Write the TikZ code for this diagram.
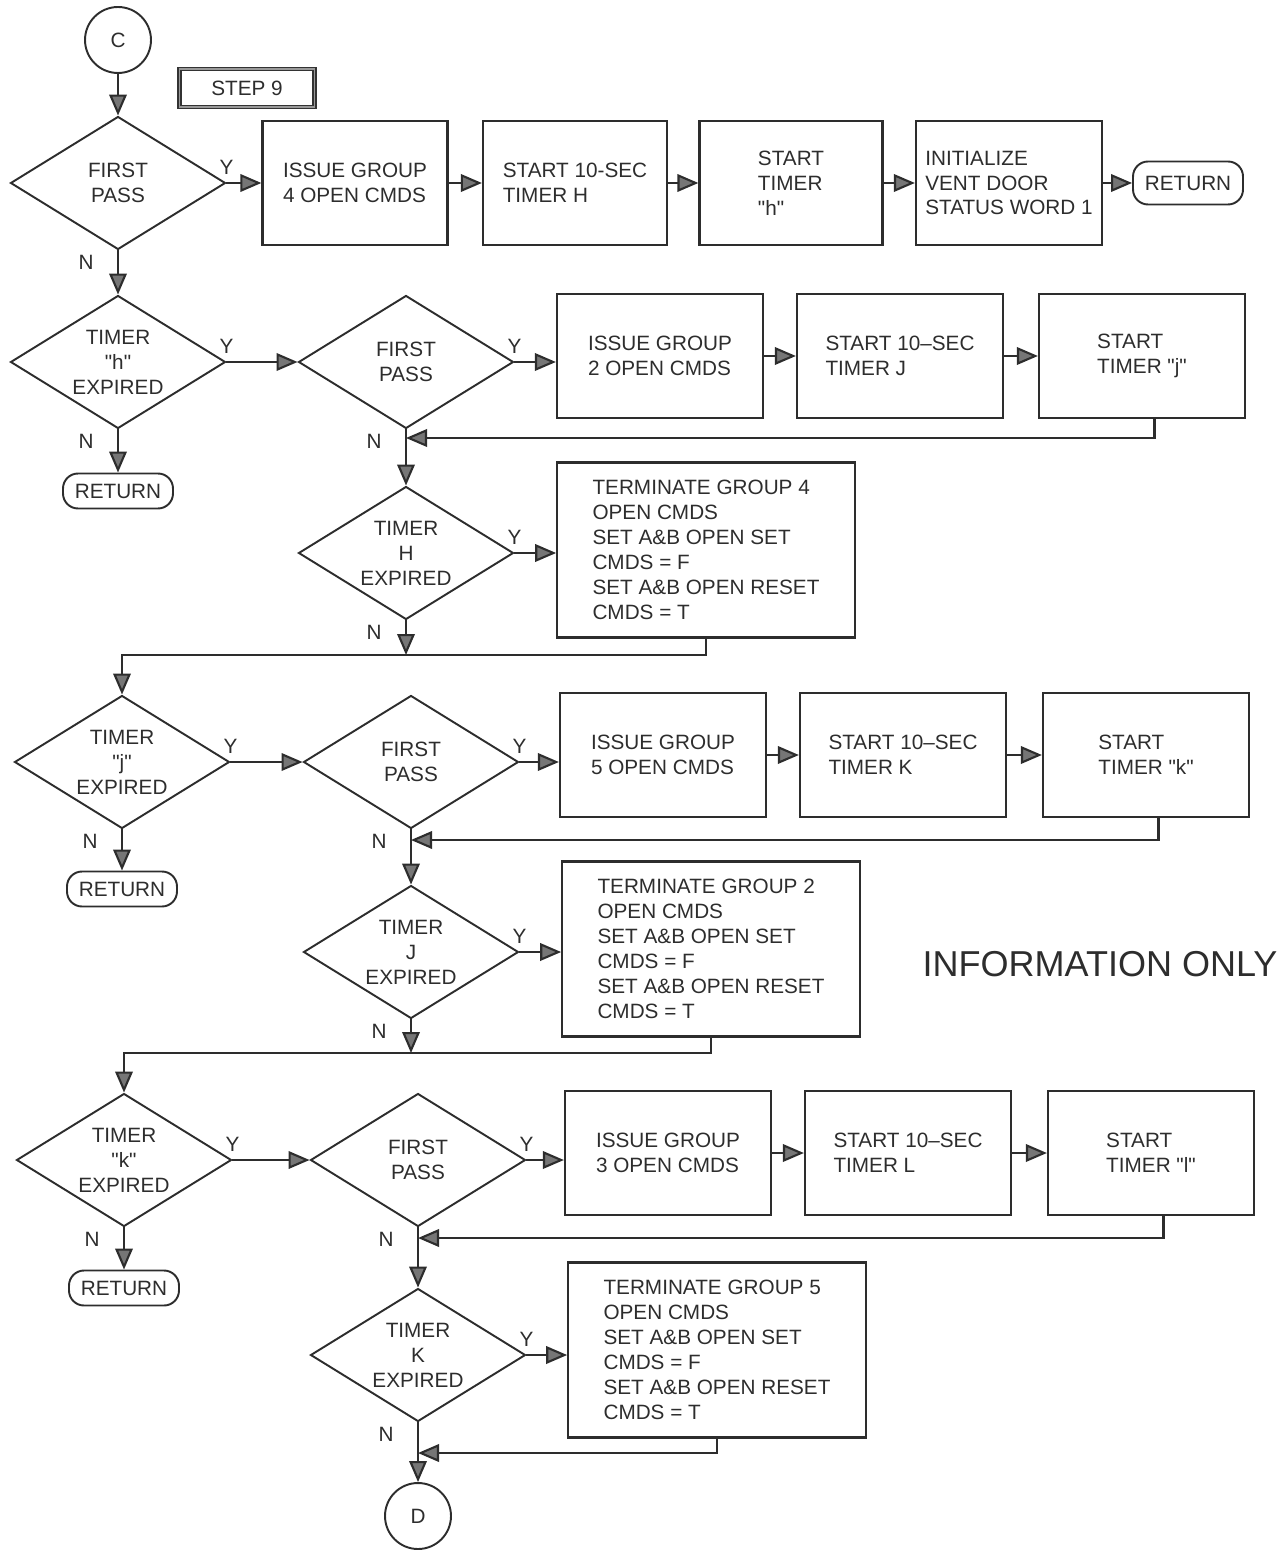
\documentclass[tikz,border=0pt]{standalone}
\usepackage{fontspec}
\setmainfont{Liberation Sans}
\usepackage{tikz}
\usetikzlibrary{shapes.geometric, arrows.meta}
\definecolor{inkgray}{RGB}{45,45,45}
\definecolor{tipgray}{RGB}{118,118,118}
\newcommand{\flowfont}{\fontsize{11.8}{14.2}\selectfont}
\newcommand{\qt}[1]{\textquotedbl#1\textquotedbl}

\begin{document}
\begin{tikzpicture}[
  x=0.02cm, y=-0.02cm,
  decision/.style={diamond, aspect=1.6, draw=inkgray, line width=1.1pt, minimum width=4.3cm, minimum height=2.66cm, inner sep=0pt, align=center, font=\flowfont, text=inkgray},
  process/.style={rectangle, draw=inkgray, line width=1.3pt, minimum width=4.12cm, minimum height=2.48cm, align=left, font=\flowfont, text=inkgray},
  wide/.style={process, minimum width=5.95cm, minimum height=3.5cm},
  terminal/.style={rectangle, rounded corners=0.3cm, draw=inkgray, line width=1.1pt, minimum width=2.2cm, minimum height=0.7cm, inner sep=1pt, font=\flowfont, text=inkgray},
  connector/.style={circle, draw=inkgray, line width=1.1pt, minimum size=1.32cm, font=\flowfont, text=inkgray},
  tag/.style={rectangle, draw=black!80, double=black!40, double distance=0.9pt, line width=0.9pt, minimum width=2.7cm, minimum height=0.76cm, font=\flowfont, text=inkgray},
  flow/.style={-{Triangle[length=0.42cm, width=0.35cm, fill=tipgray]}, draw=inkgray, line width=1.2pt},
  lab/.style={font=\flowfont, text=inkgray, inner sep=0pt},
  ylab/.style={lab, pos=0, yshift=0.32cm},
  nlab/.style={lab, pos=0, xshift=-0.64cm, yshift=-0.24cm}
]
\useasboundingbox (0,0) rectangle (1286,1550);

% Entry and step tag
\node[connector] (conC) at (118,40) {C};
\node[tag] (step) at (247,88) {STEP 9};

% Group 4 first pass
\node[decision] (pass1) at (118,183) {FIRST\\PASS};
\node[process, minimum width=3.7cm] (issue4) at (355,183) {ISSUE GROUP\\4 OPEN CMDS};
\node[process, minimum width=3.68cm] (secH) at (575,183) {START 10-SEC\\TIMER H};
\node[process, minimum width=3.66cm] (starth) at (791,183) {START\\TIMER\\\qt{h}};
\node[process, minimum width=3.72cm] (initvent) at (1009,183) {INITIALIZE\\VENT DOOR\\STATUS WORD 1};
\node[terminal, minimum height=0.86cm] (ret1) at (1188,183) {RETURN};

\draw[flow] (conC) -- (pass1);
\draw[flow] (pass1.east) -- node[ylab] (y1) {Y} (issue4.west);
\draw[flow] (issue4) -- (secH);
\draw[flow] (secH) -- (starth);
\draw[flow] (starth) -- (initvent);
\draw[flow] (initvent) -- (ret1);

% Timer h expired -> group 2
\node[decision] (timerh) at (118,362) {TIMER\\\qt{h}\\EXPIRED};
\node[terminal] (ret2) at (118,491) {RETURN};
\node[decision] (pass2) at (406,362) {FIRST\\PASS};
\node[process] (issue2) at (660,356) {ISSUE GROUP\\2 OPEN CMDS};
\node[process] (secJ) at (900,356) {START 10--SEC\\TIMER J};
\node[process] (startj) at (1142,356) {START\\TIMER \qt{j}};
\coordinate (back2) at (406,438);

\draw[flow] (pass1.south) -- node[nlab] (n1) {N} (timerh.north);
\draw[flow] (timerh.east) -- node[ylab] (y2) {Y} (pass2.west);
\draw[flow] (timerh.south) -- node[nlab] (n2) {N} (ret2.north);
\draw[flow] (pass2.east) -- node[ylab] (y3) {Y} (pass2.east -| issue2.west);
\draw[flow] (issue2) -- (secJ);
\draw[flow] (secJ) -- (startj);
\draw[flow] ([xshift=0.25cm]startj.south) |- (back2);

% Timer H expired
\node[decision] (timerH) at (406,553) {TIMER\\H\\EXPIRED};
\node[wide] (term4) at (706,550) {TERMINATE GROUP 4\\OPEN CMDS\\SET A\&B OPEN SET\\CMDS = F\\SET A\&B OPEN RESET\\CMDS = T};
\coordinate (join3) at (406,655);

\draw[flow] (pass2.south) -- node[nlab] (n3) {N} (timerH.north);
\draw[flow] (timerH.east) -- node[ylab] (y4) {Y} (timerH.east -| term4.west);
\draw[flow] (timerH.south) -- node[nlab] (n4) {N} (join3);

% Timer j expired -> group 5
\node[decision] (timerj) at (122,762) {TIMER\\\qt{j}\\EXPIRED};
\node[terminal] (ret3) at (122,889) {RETURN};
\node[decision] (pass3) at (411,762) {FIRST\\PASS};
\node[process] (issue5) at (663,755) {ISSUE GROUP\\5 OPEN CMDS};
\node[process] (secK) at (903,755) {START 10--SEC\\TIMER K};
\node[process] (startk) at (1146,755) {START\\TIMER \qt{k}};
\coordinate (back4) at (411,840);

\draw[flow] (term4.south) |- (join3) -| (timerj.north);
\draw[flow] (timerj.east) -- node[ylab] (y5) {Y} (pass3.west);
\draw[flow] (timerj.south) -- node[nlab] (n5) {N} (ret3.north);
\draw[flow] (pass3.east) -- node[ylab] (y6) {Y} (pass3.east -| issue5.west);
\draw[flow] (issue5) -- (secK);
\draw[flow] (secK) -- (startk);
\draw[flow] ([xshift=0.25cm]startk.south) |- (back4);

% Timer J expired
\node[decision] (timerJ) at (411,952) {TIMER\\J\\EXPIRED};
\node[wide] (term2) at (711,949) {TERMINATE GROUP 2\\OPEN CMDS\\SET A\&B OPEN SET\\CMDS = F\\SET A\&B OPEN RESET\\CMDS = T};
\coordinate (join5) at (411,1053);

\draw[flow] (pass3.south) -- node[nlab] (n6) {N} (timerJ.north);
\draw[flow] (timerJ.east) -- node[ylab] (y7) {Y} (timerJ.east -| term2.west);
\draw[flow] (timerJ.south) -- node[nlab] (n7) {N} (join5);

\node[font=\fontsize{20.5}{24}\selectfont, text=inkgray] (info) at (1100,964) {INFORMATION ONLY};

% Timer k expired -> group 3
\node[decision] (timerk) at (124,1160) {TIMER\\\qt{k}\\EXPIRED};
\node[terminal] (ret4) at (124,1288) {RETURN};
\node[decision] (pass4) at (418,1160) {FIRST\\PASS};
\node[process] (issue3) at (668,1153) {ISSUE GROUP\\3 OPEN CMDS};
\node[process] (secL) at (908,1153) {START 10--SEC\\TIMER L};
\node[process] (startl) at (1151,1153) {START\\TIMER \qt{l}};
\coordinate (back6) at (418,1238);

\draw[flow] (term2.south) |- (join5) -| (timerk.north);
\draw[flow] (timerk.east) -- node[ylab] (y8) {Y} (pass4.west);
\draw[flow] (timerk.south) -- node[nlab] (n8) {N} (ret4.north);
\draw[flow] (pass4.east) -- node[ylab] (y9) {Y} (pass4.east -| issue3.west);
\draw[flow] (issue3) -- (secL);
\draw[flow] (secL) -- (startl);
\draw[flow] ([xshift=0.25cm]startl.south) |- (back6);

% Timer K expired and exit
\node[decision] (timerK) at (418,1355) {TIMER\\K\\EXPIRED};
\node[wide] (term5) at (717,1350) {TERMINATE GROUP 5\\OPEN CMDS\\SET A\&B OPEN SET\\CMDS = F\\SET A\&B OPEN RESET\\CMDS = T};
\node[connector] (conD) at (418,1516) {D};
\coordinate (back7) at (418,1453);

\draw[flow] (pass4.south) -- node[nlab] (n9) {N} (timerK.north);
\draw[flow] (timerK.east) -- node[ylab] (y10) {Y} (timerK.east -| term5.west);
\draw[flow] (timerK.south) -- node[nlab] (n10) {N} (conD.north);
\draw[flow] (term5.south) |- (back7);

\end{tikzpicture}
\end{document}
